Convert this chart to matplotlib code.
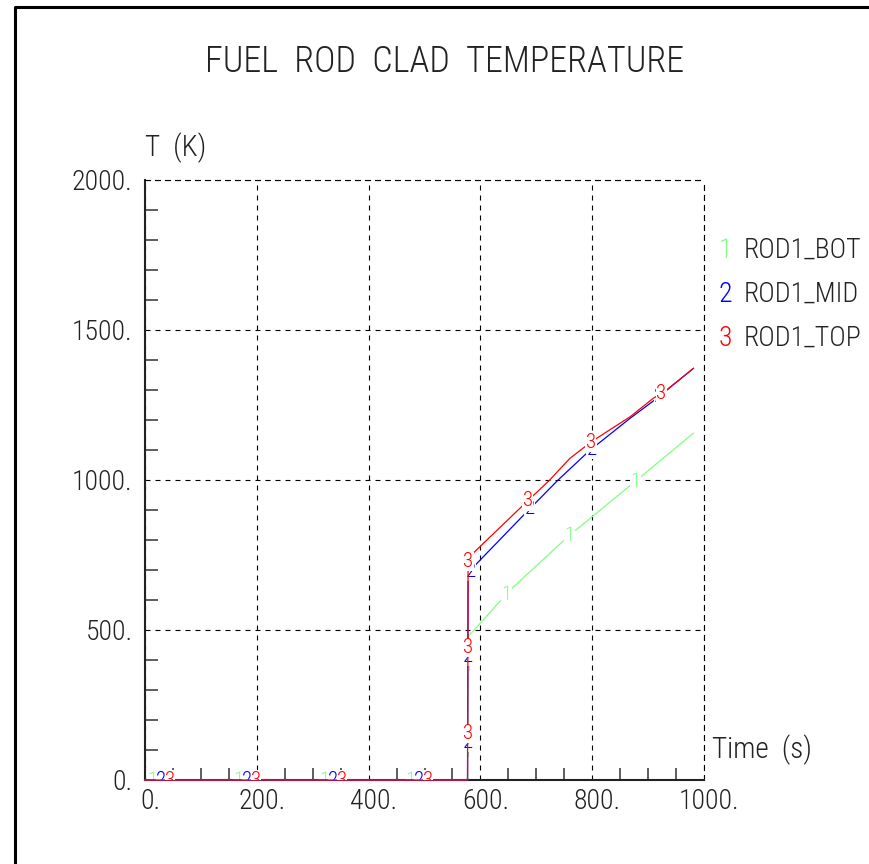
import numpy as np
import matplotlib.pyplot as plt
from matplotlib.lines import Line2D
from matplotlib.ticker import MultipleLocator
import matplotlib.transforms as mtransforms

plt.rcParams['font.family'] = ['Roboto Condensed', 'DejaVu Sans']
plt.rcParams['font.weight'] = 300

# clad temperature at three axial levels of rod 1
time_bot = [0, 577, 578, 653, 760, 793, 880, 981]
temp_bot = [0, 0, 478, 633, 817, 867, 1000, 1156]

time_mid = [0, 577, 578, 587, 683, 739, 790, 808, 868, 912, 981]
temp_mid = [0, 0, 683, 709, 894, 1000, 1089, 1117, 1206, 1267, 1372]

time_top = [0, 577, 578, 587, 677, 724, 760, 787, 808, 868, 909, 933, 981]
temp_top = [0, 0, 737, 756, 917, 1000, 1072, 1111, 1139, 1211, 1272, 1300, 1372]

curve_marks = ['1', '2', '3']
curve_names = ['ROD1_BOT', 'ROD1_MID', 'ROD1_TOP']
curve_colors = ['#80ff80', '#0000ff', '#ff0000']

x_ticks = [0, 200, 400, 600, 800, 1000]
x_tick_labels = ['0.', '200.', '400.', '600.', '800.', '1000.']
y_ticks = [0, 500, 1000, 1500, 2000]
y_tick_labels = ['0.', '500.', '1000.', '1500.', '2000.']

DPI = 100
W, H = 869, 864


def label_curve(ax, t, temp, mark, color, first_px, step_px, z):
    # put the curve number every step_px pixels along the drawn path
    pts = ax.transData.transform(np.column_stack([t, temp]))
    seg = np.diff(pts, axis=0)
    seg_len = np.hypot(seg[:, 0], seg[:, 1])
    cum = np.concatenate([[0.0], np.cumsum(seg_len)])
    inv = ax.transData.inverted()
    for d in np.arange(first_px, cum[-1], step_px):
        i = min(np.searchsorted(cum, d, side='right') - 1, len(seg_len) - 1)
        frac = (d - cum[i]) / seg_len[i]
        xd, yd = inv.transform(pts[i] + frac * seg[i])
        ax.text(xd, yd, mark, color=color, fontsize=15, ha='center', va='center',
                zorder=z, clip_on=True,
                bbox=dict(facecolor='white', edgecolor='none', pad=0.3))


fig = plt.figure(figsize=(W / DPI, H / DPI), dpi=DPI)
ax = fig.add_axes([145 / W, 84 / H, 559 / W, 600 / H])
ax.set_xlim(0, 1000)
ax.set_ylim(0, 2000)

ax.set_xticks(x_ticks)
ax.set_xticklabels(x_tick_labels)
ax.set_yticks(y_ticks)
ax.set_yticklabels(y_tick_labels)
ax.xaxis.set_minor_locator(MultipleLocator(50))
ax.yaxis.set_minor_locator(MultipleLocator(100))
ax.tick_params(which='major', length=0, labelsize=20, labelcolor='#222222')
ax.tick_params(axis='x', which='major', pad=6)
ax.tick_params(axis='y', which='major', pad=9)
ax.tick_params(axis='x', which='minor', direction='in', length=8.6, width=1.1, color='#333333')
ax.tick_params(axis='y', which='minor', direction='in', length=9.4, width=1.1, color='#333333')

# shift x tick labels a bit to the right, like the old plotter did
shift = mtransforms.ScaledTranslation(5 / DPI, 0, fig.dpi_scale_trans)
for lab in ax.get_xticklabels():
    lab.set_transform(lab.get_transform() + shift)

dash = (0, (4.5, 4.5))
ax.set_axisbelow(True)
ax.grid(True, which='major', color='black', linestyle=dash, linewidth=0.8)
for side in ['left', 'bottom']:
    ax.spines[side].set_linewidth(1.5)
    ax.spines[side].set_color('#222222')
for side in ['top', 'right']:
    ax.spines[side].set_linewidth(0.8)
    ax.spines[side].set_linestyle(dash)

series = [(time_bot, temp_bot), (time_mid, temp_mid), (time_top, temp_top)]
offsets_px = [7, 16, 25]
for k, (t, temp) in enumerate(series):
    z = 3 + k
    ax.plot(t, temp, color=curve_colors[k], linewidth=0.9, zorder=z, clip_on=False)
    label_curve(ax, t, temp, curve_marks[k], curve_colors[k], offsets_px[k], 86, z + 0.5)

fig.text(445 / W, 1 - 62 / H, 'FUEL  ROD  CLAD  TEMPERATURE', ha='center', va='center',
         fontsize=26, color='#222222')
fig.text(145 / W, 1 - 148 / H, 'T  (K)', ha='left', va='center', fontsize=21, color='#222222')
fig.text(712 / W, 1 - 750 / H, 'Time  (s)', ha='left', va='center', fontsize=21, color='#222222')

for k in range(3):
    yy = 1 - (250 + 44 * k) / H
    fig.text(725 / W, yy, curve_marks[k], color=curve_colors[k], ha='center', va='center', fontsize=20)
    fig.text(744 / W, yy, curve_names[k], color='#222222', ha='left', va='center', fontsize=20)

# frame around the page
fig.add_artist(Line2D([15 / W, 15 / W, 1], [0, 1 - 7 / H, 1 - 7 / H], color='black', linewidth=2.2))

fig.savefig('out.png', dpi=DPI)
